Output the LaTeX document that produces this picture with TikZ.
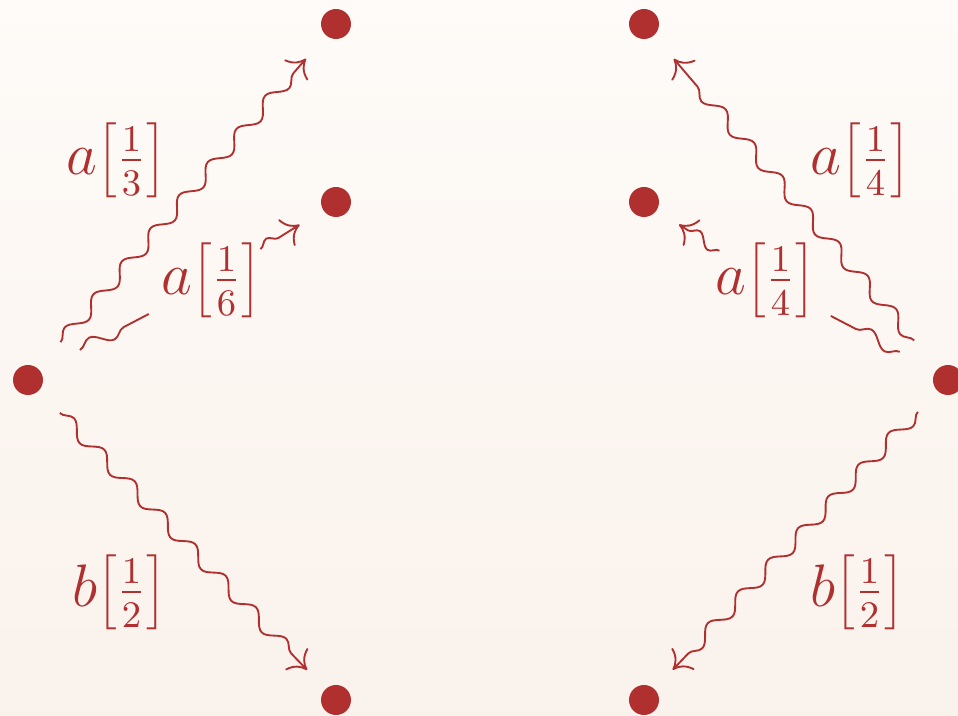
\documentclass[tikz,border=0pt]{standalone}
\usetikzlibrary{decorations.pathmorphing,arrows.meta,calc}
\definecolor{dotred}{RGB}{176,48,48}
\definecolor{bgtop}{RGB}{254,251,248}
\definecolor{bgbot}{RGB}{250,242,236}
\begin{document}
\begin{tikzpicture}[x=0.24pt,y=-0.24pt,
  dot/.style={circle,fill=dotred,inner sep=0pt,minimum size=7.2pt},
  sq/.style={draw=dotred,line width=0.45pt,decorate,
    decoration={snake,amplitude=1.6pt,segment length=10.5pt,post length=4pt}},
  sqshort/.style={draw=dotred,line width=0.45pt,decorate,
    decoration={snake,amplitude=1.4pt,segment length=8pt,post length=2.5pt}},
  tipped/.style={-{Computer Modern Rightarrow[length=3.8pt,width=7.5pt]}},
  lab/.style={text=dotred,inner sep=1pt,font=\fontsize{13.5}{16}\selectfont}]
\shade[top color=bgtop,bottom color=bgbot] (0,0) rectangle (958,716);
\useasboundingbox (0,0) rectangle (958,716);
% dots
\node[dot] (L)  at (28,380) {};
\node[dot] (TL) at (336,24) {};
\node[dot] (ML) at (336,202) {};
\node[dot] (BL) at (336,700) {};
\node[dot] (TR) at (644,24) {};
\node[dot] (MR) at (644,202) {};
\node[dot] (R)  at (948,380) {};
\node[dot] (BR) at (644,700) {};
% labels
\node[lab] (l13) at (116,160) {$a{\left[\frac{1}{3}\right]}$};
\node[lab] (l16) at (211,280) {$a{\left[\frac{1}{6}\right]}$};
\node[lab] (lb1) at (119,592) {$b{\left[\frac{1}{2}\right]}$};
\node[lab] (l14a) at (860,160) {$a{\left[\frac{1}{4}\right]}$};
\node[lab] (l14b) at (765,280) {$a{\left[\frac{1}{4}\right]}$};
\node[lab] (lb2) at (857,592) {$b{\left[\frac{1}{2}\right]}$};
% arrows
\draw[sq,tipped] ($(L)!12pt!(TL)$) -- ($(TL)!11pt!(L)$);
\draw[sq] ($(L)!14.4pt!(ML)$) -- ($(l16)!17pt!(L)$);
\draw[sqshort,tipped] ($(l16)!14pt!(ML)$) -- ($(ML)!10.3pt!(l16)$);
\draw[sq,tipped] ($(L)!11pt!(BL)$) -- ($(BL)!10pt!(L)$);
\draw[sq,tipped] ($(R)!12.5pt!(TR)$) -- ($(TR)!11pt!(R)$);
\draw[sq] ($(R)!13.4pt!(MR)$) -- ($(l14b)!18pt!(R)$);
\draw[sqshort,tipped] ($(l14b)!13pt!(MR)$) -- ($(MR)!10pt!(l14b)$);
\draw[sq,tipped] ($(R)!10.5pt!(BR)$) -- ($(BR)!10pt!(R)$);
\end{tikzpicture}
\end{document}
